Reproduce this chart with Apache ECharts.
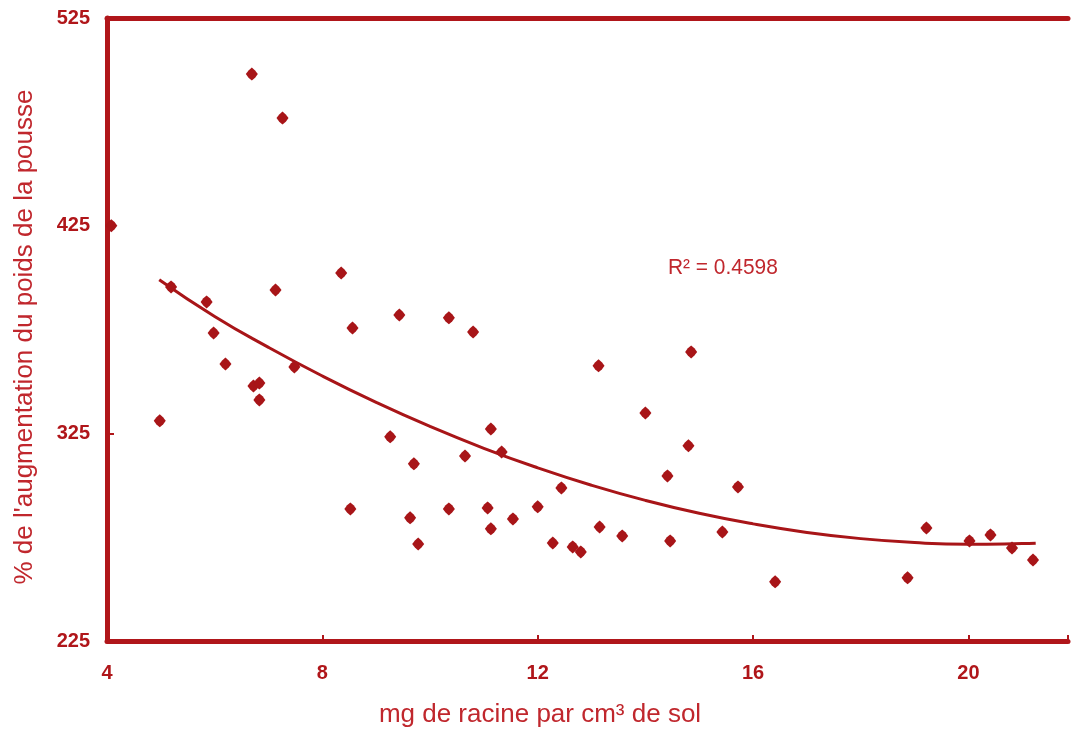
<!DOCTYPE html>
<html>
<head>
<meta charset="utf-8">
<script src="https://cdn.jsdelivr.net/npm/echarts@6/dist/echarts.min.js"></script>
<style>
html,body{margin:0;padding:0;background:#fff;}
#chart{width:1071px;height:731px;}
</style>
</head>
<body>
<div id="chart"></div>
<script>
const xValues = [4.08, 6.69, 7.26, 5.19, 5.85, 5.98, 6.20, 7.13, 6.72, 6.83, 6.83, 4.98, 7.48, 8.35, 8.56, 8.52, 9.26, 9.43, 9.70, 9.63, 9.78, 10.35, 10.80, 10.35, 10.65, 11.13, 11.07, 11.13, 11.33, 11.54, 12.00, 12.28, 12.44, 12.65, 12.80, 13.13, 13.15, 13.57, 14.00, 14.41, 14.46, 14.80, 14.85, 15.43, 15.72, 16.41, 18.87, 19.22, 20.02, 20.41, 20.81, 21.20];
const yValues = [425, 498, 476.8, 395.5, 388.3, 373.3, 358.4, 394, 347.8, 349.2, 341.1, 331, 357, 402.2, 375.7, 288.6, 323.3, 382, 310.3, 284.3, 271.7, 380.6, 373.8, 288.6, 314.1, 327.1, 289.1, 279, 316, 283.8, 289.6, 272.2, 298.7, 270.3, 267.9, 357.5, 279.9, 275.6, 334.8, 304.5, 273.2, 319, 364.2, 277.5, 299.2, 253.5, 255.4, 279.4, 273.2, 276.1, 269.8, 264];
const trendX = [4.97, 6, 7, 8, 9, 10, 11, 12, 13, 14, 15, 16, 17, 18, 19, 20, 21, 21.25];
const trendY = [399, 381.3, 366.4, 352.6, 339.9, 328.3, 317.8, 308.4, 300, 292.7, 286.5, 281.4, 277.3, 274.3, 272.4, 271.6, 271.9, 272.1];
const xTicks = [4, 8, 12, 16, 20];
const yTicks = [225, 325, 425, 525];
const xTitle = 'mg de racine par cm³ de sol';
const yTitle = "% de l'augmentation du poids de la pousse";
const r2Label = 'R² = 0.4598';

const axisColor = '#B0161A';
const markColor = '#A81518';
const titleColor = '#C0272D';

const chart = echarts.init(document.getElementById('chart'), null, {renderer: 'canvas'});
const points = xValues.map((x, i) => [x, yValues[i]]);
const trend = trendX.map((x, i) => [x, trendY[i]]);

chart.setOption({
  animation: false,
  backgroundColor: '#ffffff',
  grid: {left: 107, top: 18, right: 0, bottom: 90, containLabel: false},
  xAxis: [{
    type: 'value', min: 4, max: 21.85, interval: 4, position: 'bottom',
    axisLine: {show: true, onZero: false, lineStyle: {color: axisColor, width: 5}},
    axisTick: {show: true, inside: true, length: 6, lineStyle: {color: axisColor, width: 2}},
    splitLine: {show: false},
    axisLabel: {
      color: axisColor, fontFamily: 'Liberation Sans', fontWeight: 'bold', fontSize: 20, margin: 22,
      formatter: v => xTicks.includes(v) ? String(v) : ''
    }
  }, {
    type: 'value', min: 4, max: 21.85, position: 'top',
    axisLine: {show: true, onZero: false, lineStyle: {color: axisColor, width: 5}},
    axisTick: {show: false}, axisLabel: {show: false}, splitLine: {show: false}
  }],
  yAxis: {
    type: 'value', min: 225, max: 525, interval: 100,
    axisLine: {show: true, onZero: false, lineStyle: {color: axisColor, width: 5}},
    axisTick: {show: true, inside: true, length: 7, lineStyle: {color: axisColor, width: 2}},
    splitLine: {show: false},
    axisLabel: {
      color: axisColor, fontFamily: 'Liberation Sans', fontWeight: 'bold', fontSize: 20, margin: 17,
      formatter: v => yTicks.includes(v) ? String(v) : ''
    }
  },
  series: [{
    type: 'line', data: trend, smooth: true, showSymbol: false, symbol: 'none',
    lineStyle: {color: markColor, width: 3}, z: 2
  }, {
    type: 'scatter', data: points,
    symbol: 'path://M0,-10 L5.5,-5.5 L10,0 L5.5,5.5 L0,10 L-5.5,5.5 L-10,0 L-5.5,-5.5 Z',
    symbolSize: [12, 13], clip: false,
    itemStyle: {color: markColor, opacity: 1}, z: 3
  }],
  graphic: [{
    type: 'text', x: 25, y: 337, rotation: Math.PI / 2,
    style: {text: yTitle, fill: titleColor, font: '26px "Liberation Sans"', textAlign: 'center', textVerticalAlign: 'middle'}
  }, {
    type: 'text', x: 540, y: 715,
    style: {text: xTitle, fill: titleColor, font: '26px "Liberation Sans"', textAlign: 'center', textVerticalAlign: 'middle'}
  }, {
    type: 'text', x: 668, y: 268, scaleX: 0.95,
    style: {text: r2Label, fill: titleColor, font: '22px "Liberation Sans"', textAlign: 'left', textVerticalAlign: 'middle'}
  }]
});
</script>
</body>
</html>
